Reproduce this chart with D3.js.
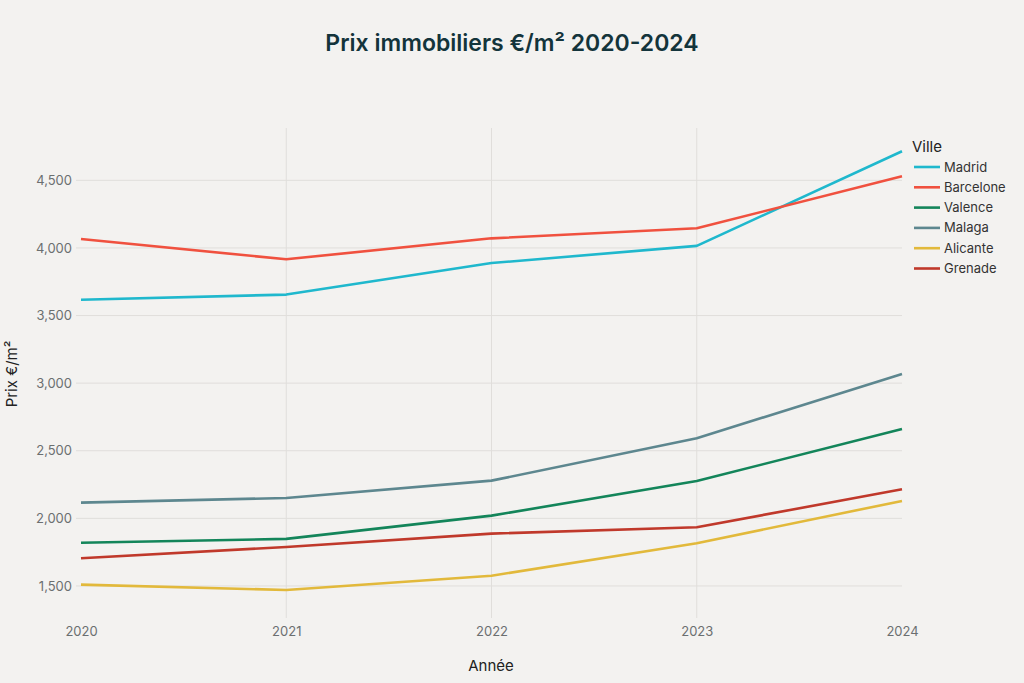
<!DOCTYPE html>
<html lang="fr">
<head>
<meta charset="utf-8">
<title>Prix immobiliers</title>
<script src="https://cdn.jsdelivr.net/npm/d3@7"></script>
<style>
  body { margin: 0; background: #f3f2f0; }
  svg { display: block; font-family: "Inter", "Liberation Sans", sans-serif; }
</style>
</head>
<body>
<div id="chart"></div>
<script>
// années et villes
var years = [2020, 2021, 2022, 2023, 2024];
var cities = ["Madrid", "Barcelone", "Valence", "Malaga", "Alicante", "Grenade"];
var colors = ["#1fb8cd", "#f0513f", "#13855a", "#5d878f", "#e2b93b", "#c0392b"];

// prix €/m² par ville
var madrid    = [3617, 3655, 3888, 4015, 4715];
var barcelone = [4066, 3916, 4071, 4145, 4530];
var valence   = [1820, 1848, 2020, 2276, 2660];
var malaga    = [2116, 2151, 2279, 2592, 3068];
var alicante  = [1510, 1470, 1576, 1816, 2129];
var grenade   = [1705, 1788, 1887, 1934, 2215];
var yTicks = [1500, 2000, 2500, 3000, 3500, 4000, 4500];

var series = [madrid, barcelone, valence, malaga, alicante, grenade];

var w = 1024, h = 683;
var mLeft = 81, mRight = 902, mTop = 128, mBottom = 618;

var svg = d3.select("#chart").append("svg")
    .attr("width", w).attr("height", h);

svg.append("rect").attr("width", w).attr("height", h).attr("fill", "#f3f2f0");

var x = d3.scaleLinear().domain([2020, 2024]).range([mLeft, mRight]);
var y = d3.scaleLinear().domain([1263, 4887]).range([mBottom, mTop]);

// grille (pas de ligne verticale aux bords)
svg.append("g").selectAll("line").data(yTicks).enter().append("line")
    .attr("x1", mLeft - 5).attr("x2", mRight)
    .attr("y1", function(d){ return y(d); }).attr("y2", function(d){ return y(d); })
    .attr("stroke", "#e0dedb").attr("stroke-width", 1);
svg.append("g").selectAll("line").data(years.slice(1, -1)).enter().append("line")
    .attr("x1", function(d){ return x(d); }).attr("x2", function(d){ return x(d); })
    .attr("y1", mTop).attr("y2", mBottom)
    .attr("stroke", "#e0dedb").attr("stroke-width", 1);

// axes
var yAxis = svg.append("g").attr("transform", "translate(" + (mLeft - 5) + ",0)")
    .call(d3.axisLeft(y).tickValues(yTicks).tickSize(0).tickPadding(4).tickFormat(d3.format(",")));
var xAxis = svg.append("g").attr("transform", "translate(0," + mBottom + ")")
    .call(d3.axisBottom(x).tickValues(years).tickSize(0).tickPadding(9).tickFormat(d3.format("d")));
[yAxis, xAxis].forEach(function(a){
  a.select(".domain").remove();
  a.selectAll("text").attr("fill", "#6b6f70").attr("font-size", "13px")
    .attr("font-family", "Inter, 'Liberation Sans', sans-serif");
});

// lignes
var line = d3.line()
    .x(function(d, i){ return x(years[i]); })
    .y(function(d){ return y(d); });

svg.append("g").selectAll("path").data(series).enter().append("path")
    .attr("d", line)
    .attr("fill", "none")
    .attr("stroke", function(d, i){ return colors[i]; })
    .attr("stroke-width", 2.6)
    .attr("stroke-linejoin", "round");

// titres
svg.append("text").attr("x", 512).attr("y", 51).attr("text-anchor", "middle")
    .attr("font-size", "23px").attr("font-weight", "600").attr("fill", "#13343b")
    .text("Prix immobiliers €/m² 2020-2024");
svg.append("text").attr("x", 491).attr("y", 671).attr("text-anchor", "middle")
    .attr("font-size", "15px").attr("fill", "#222")
    .text("Année");
svg.append("text").attr("transform", "translate(17,374) rotate(-90)").attr("text-anchor", "middle")
    .attr("font-size", "15px").attr("fill", "#222")
    .text("Prix €/m²");

// légende
var legend = svg.append("g");
legend.append("text").attr("x", 912).attr("y", 152)
    .attr("font-size", "15px").attr("fill", "#222").text("Ville");
var items = legend.selectAll("g.item").data(cities).enter().append("g")
    .attr("transform", function(d, i){ return "translate(914," + (167 + i * 20.3) + ")"; });
items.append("line").attr("x1", 0).attr("x2", 26).attr("y1", 0).attr("y2", 0)
    .attr("stroke", function(d, i){ return colors[i]; }).attr("stroke-width", 2.6);
items.append("text").attr("x", 30).attr("y", 4.5)
    .attr("font-size", "13px").attr("fill", "#333").text(function(d){ return d; });
</script>
</body>
</html>
